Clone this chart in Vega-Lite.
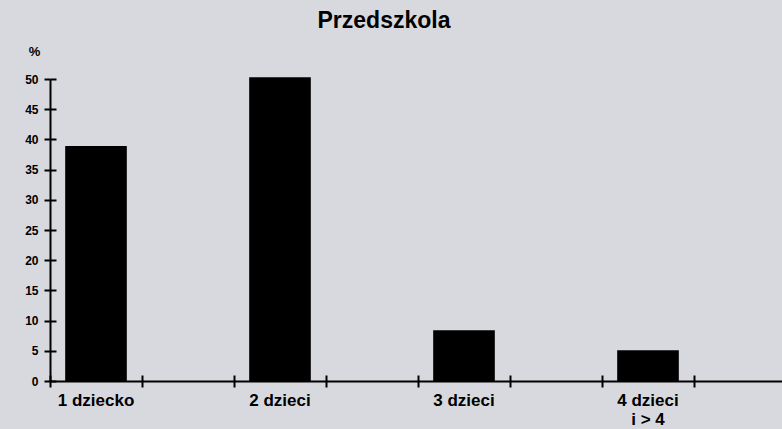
{
  "$schema": "https://vega.github.io/schema/vega-lite/v6.json",
  "width": 736,
  "height": 302,
  "autosize": {"type": "none"},
  "padding": {"left": 50, "top": 79, "right": 0, "bottom": 48},
  "background": "#d8d9de",
  "config": {
    "view": {"stroke": null},
    "axis": {
      "domainColor": "black",
      "tickColor": "black",
      "domainWidth": 2,
      "tickWidth": 2,
      "grid": false,
      "labelColor": "black",
      "titleColor": "black"
    }
  },
  "title": {
    "text": "Przedszkola",
    "font": "Liberation Sans",
    "fontSize": 23,
    "fontWeight": "bold",
    "color": "black",
    "anchor": "middle",
    "dx": -34,
    "offset": 12
  },
  "data": {
    "values": [
      {"kategoria": "1 dziecko", "procent": 38.9},
      {"kategoria": "2 dzieci", "procent": 50.3},
      {"kategoria": "3 dzieci", "procent": 8.4},
      {"kategoria": "4 dzieci|i > 4", "procent": 5.1}
    ]
  },
  "layer": [
    {
      "mark": {"type": "bar", "color": "black", "width": {"band": 0.67}},
      "encoding": {
        "x": {
          "field": "kategoria",
          "type": "nominal",
          "sort": null,
          "scale": {"domain": ["1 dziecko", "_a", "2 dzieci", "_b", "3 dzieci", "_c", "4 dzieci|i > 4", "_d"], "paddingInner": 0, "paddingOuter": 0},
          "axis": {
            "orient": "bottom",
            "title": null,
            "ticks": false,
            "domain": true,
            "labelAngle": 0,
            "labelPadding": 11,
            "labelFont": "Liberation Sans",
            "labelFontSize": 17,
            "labelFontWeight": "bold",
            "labelLineHeight": 19,
            "labelOverlap": false,
            "labelLimit": 300,
            "labelExpr": "slice(datum.value, 0, 1) == '_' ? '' : split(datum.value, '|')"
          }
        },
        "y": {
          "field": "procent",
          "type": "quantitative",
          "scale": {"domain": [0, 50], "nice": false},
          "axis": {
            "orient": "left",
            "values": [0, 5, 10, 15, 20, 25, 30, 35, 40, 45, 50],
            "tickSize": 6,
            "labelPadding": 6,
            "labelFont": "Liberation Sans",
            "labelFontSize": 12,
            "labelFontWeight": "bold",
            "title": "%",
            "titleAngle": 0,
            "titleX": -16,
            "titleY": -28,
            "titleAlign": "center",
            "titleBaseline": "middle",
            "titleFont": "Liberation Sans",
            "titleFontSize": 13,
            "titleFontWeight": "bold"
          }
        }
      }
    },
    {
      "mark": {"type": "bar", "color": "black", "opacity": 0, "width": {"band": 0.67}},
      "encoding": {
        "x": {
          "field": "kategoria",
          "type": "nominal",
          "sort": null,
          "scale": {"domain": ["1 dziecko", "_a", "2 dzieci", "_b", "3 dzieci", "_c", "4 dzieci|i > 4", "_d"], "paddingInner": 0, "paddingOuter": 0},
          "axis": {"orient": "bottom", "title": null, "bandPosition": 0, "tickSize": 6, "labels": false, "domain": false}
        },
        "y": {
          "field": "procent",
          "type": "quantitative",
          "scale": {"domain": [0, 50], "nice": false},
          "axis": {"orient": "left", "title": null, "values": [0, 5, 10, 15, 20, 25, 30, 35, 40, 45, 50], "offset": -6, "tickSize": 6, "labels": false, "domain": false}
        }
      }
    },
    {
      "mark": {"type": "bar", "color": "black", "opacity": 0, "width": {"band": 0.67}},
      "encoding": {
        "x": {
          "field": "kategoria",
          "type": "nominal",
          "sort": null,
          "scale": {"domain": ["1 dziecko", "_a", "2 dzieci", "_b", "3 dzieci", "_c", "4 dzieci|i > 4", "_d"], "paddingInner": 0, "paddingOuter": 0},
          "axis": {"orient": "bottom", "title": null, "bandPosition": 0, "offset": -6, "tickSize": 6, "labels": false, "domain": false}
        },
        "y": {
          "field": "procent",
          "type": "quantitative",
          "scale": {"domain": [0, 50], "nice": false},
          "axis": null
        }
      }
    }
  ],
  "resolve": {"axis": {"x": "independent", "y": "independent"}}
}
